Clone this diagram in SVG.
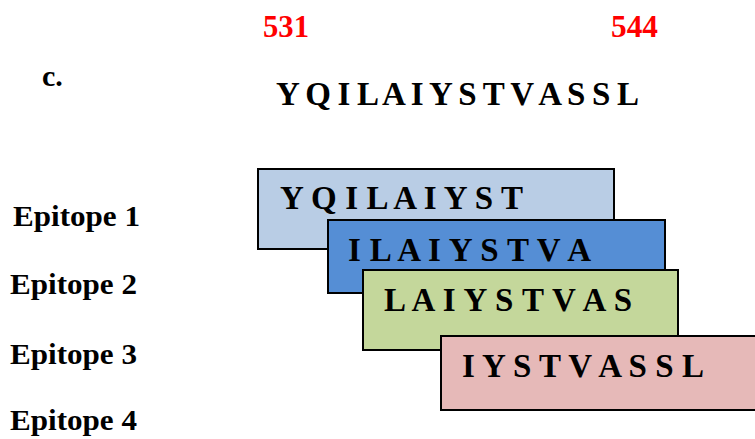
<svg xmlns="http://www.w3.org/2000/svg" width="755" height="439" viewBox="0 0 755 439">
  <style>
    text { font-family: "Liberation Serif", "Times New Roman", serif; font-weight: bold; fill: #000; }
    .pos { fill: #ff0000; font-size: 32px; }
    .seq { font-size: 33px; }
    .lbl { font-size: 30px; }
    .box { stroke: #000; stroke-width: 2; }
  </style>
  <rect width="755" height="439" fill="#ffffff"/>

  <!-- panel letter and residue positions -->
  <text x="42" y="86" style="font-size:30px">c.</text>
  <text class="pos" x="263" y="37" textLength="46" lengthAdjust="spacingAndGlyphs">531</text>
  <text class="pos" x="611" y="37" textLength="47" lengthAdjust="spacingAndGlyphs">544</text>

  <!-- full peptide -->
  <text class="seq" x="276" y="105" textLength="363" lengthAdjust="spacing">Y Q I L A I Y S T V A S S L</text>

  <!-- epitope labels -->
  <text class="lbl" x="13" y="226" textLength="127" lengthAdjust="spacingAndGlyphs">Epitope 1</text>
  <text class="lbl" x="10" y="294" textLength="127" lengthAdjust="spacingAndGlyphs">Epitope 2</text>
  <text class="lbl" x="10" y="364" textLength="127" lengthAdjust="spacingAndGlyphs">Epitope 3</text>
  <text class="lbl" x="10" y="430" textLength="127" lengthAdjust="spacingAndGlyphs">Epitope 4</text>

  <!-- overlapping epitope boxes -->
  <g id="epitope1">
    <rect class="box" x="258" y="169" width="356" height="80" fill="#b9cde5"/>
    <text class="seq" x="280" y="209" textLength="243" lengthAdjust="spacing">Y Q I L A I Y S T</text>
  </g>
  <g id="epitope2">
    <rect class="box" x="328" y="220" width="337" height="73" fill="#558ed5"/>
    <text class="seq" x="348" y="261" textLength="243" lengthAdjust="spacing">I L A I Y S T V A</text>
  </g>
  <g id="epitope3">
    <rect class="box" x="363" y="270" width="315" height="80" fill="#c4d79b"/>
    <text class="seq" x="384" y="311" textLength="248" lengthAdjust="spacing">L A I Y S T V A S</text>
  </g>
  <g id="epitope4">
    <rect class="box" x="441" y="336" width="318" height="74" fill="#e6b9b8"/>
    <text class="seq" x="462" y="377" textLength="242" lengthAdjust="spacing">I Y S T V A S S L</text>
  </g>
</svg>
